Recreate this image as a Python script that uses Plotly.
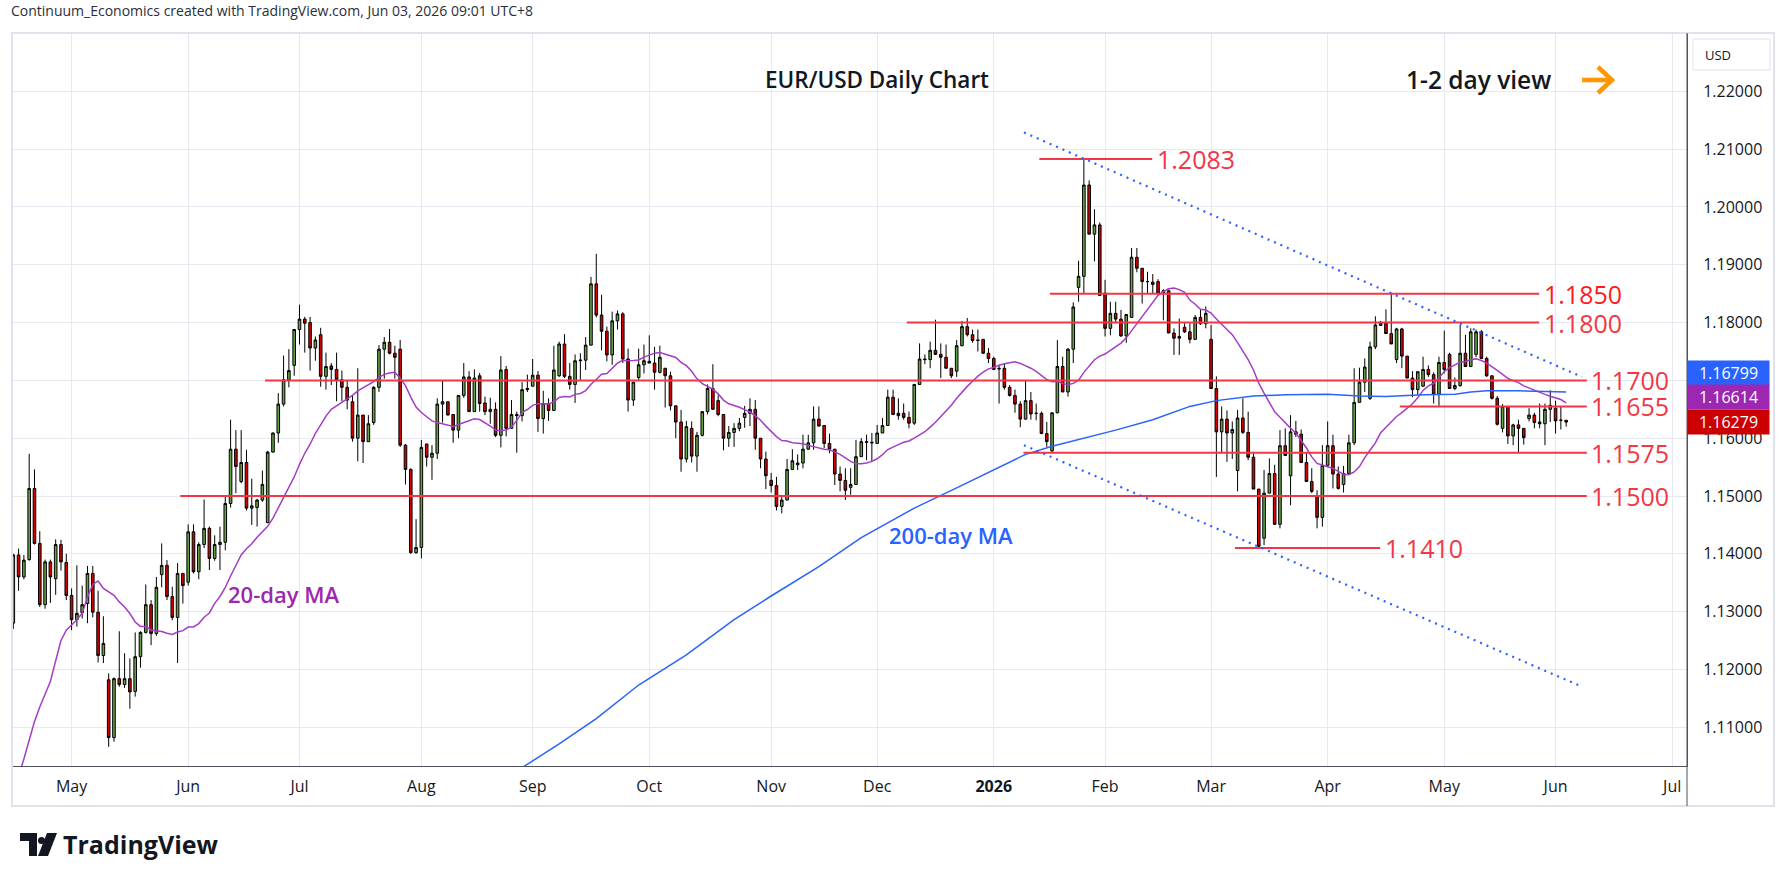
import pandas as pd
import plotly.graph_objects as go

# EUR/USD daily candles (first bar 16 Apr 2025)
opens = [1.1280, 1.1398, 1.1360, 1.1390, 1.1513, 1.1418, 1.1312, 1.1386, 1.1357, 1.1416,
         1.1385, 1.1328, 1.1286, 1.1298, 1.1314, 1.1366, 1.1299, 1.1224, 1.1182, 1.1082,
         1.1184, 1.1174, 1.1184, 1.1162, 1.1222, 1.1264, 1.1312, 1.1262, 1.1364, 1.1380,
         1.1326, 1.1290, 1.1366, 1.1351, 1.1438, 1.1369, 1.1416, 1.1444, 1.1392, 1.1416,
         1.1420, 1.1487, 1.1581, 1.1525, 1.1558, 1.1479, 1.1480, 1.1493, 1.1454, 1.1576,
         1.1609, 1.1659, 1.1701, 1.1726, 1.1788, 1.1806, 1.1800, 1.1756, 1.1779, 1.1707,
         1.1725, 1.1719, 1.1701, 1.1688, 1.1663, 1.1600, 1.1640, 1.1594, 1.1627, 1.1688,
         1.1754, 1.1766, 1.1747, 1.1754, 1.1588, 1.1546, 1.1402, 1.1411, 1.1590, 1.1567,
         1.1574, 1.1659, 1.1663, 1.1641, 1.1614, 1.1674, 1.1706, 1.1646, 1.1708, 1.1661,
         1.1646, 1.1650, 1.1605, 1.1719, 1.1617, 1.1641, 1.1639, 1.1684, 1.1690, 1.1709,
         1.1634, 1.1660, 1.1648, 1.1708, 1.1763, 1.1707, 1.1693, 1.1734, 1.1735, 1.1761,
         1.1867, 1.1813, 1.1785, 1.1744, 1.1803, 1.1815, 1.1737, 1.1666, 1.1705, 1.1727,
         1.1733, 1.1730, 1.1714, 1.1721, 1.1708, 1.1656, 1.1628, 1.1564, 1.1617, 1.1569,
         1.1605, 1.1646, 1.1686, 1.1665, 1.1641, 1.1600, 1.1610, 1.1617, 1.1636, 1.1643,
         1.1650, 1.1600, 1.1564, 1.1527, 1.1518, 1.1482, 1.1493, 1.1546, 1.1554, 1.1557,
         1.1581, 1.1592, 1.1633, 1.1622, 1.1591, 1.1581, 1.1538, 1.1527, 1.1515, 1.1520,
         1.1568, 1.1594, 1.1593, 1.1591, 1.1609, 1.1622, 1.1671, 1.1643, 1.1643, 1.1636,
         1.1626, 1.1693, 1.1737, 1.1736, 1.1752, 1.1745, 1.1740, 1.1721, 1.1716, 1.1760,
         1.1793, 1.1779, 1.1770, 1.1771, 1.1747, 1.1738, 1.1721, 1.1721, 1.1688, 1.1674,
         1.1659, 1.1633, 1.1665, 1.1643, 1.1643, 1.1608, 1.1578, 1.1644, 1.1724, 1.1680,
         1.1754, 1.1861, 1.1880, 1.2038, 1.1953, 1.1969, 1.1851, 1.1790, 1.1816, 1.1806,
         1.1777, 1.1809, 1.1913, 1.1894, 1.1871, 1.1870, 1.1871, 1.1851, 1.1855, 1.1782,
         1.1773, 1.1792, 1.1784, 1.1771, 1.1809, 1.1798, 1.1771, 1.1686, 1.1611, 1.1633,
         1.1609, 1.1544, 1.1635, 1.1610, 1.1567, 1.1512, 1.1427, 1.1505, 1.1539, 1.1451,
         1.1587, 1.1535, 1.1611, 1.1607, 1.1558, 1.1525, 1.1500, 1.1463, 1.1553, 1.1587,
         1.1538, 1.1520, 1.1539, 1.1592, 1.1662, 1.1697, 1.1669, 1.1758, 1.1795, 1.1799,
         1.1781, 1.1736, 1.1789, 1.1742, 1.1704, 1.1684, 1.1690, 1.1719, 1.1710, 1.1676,
         1.1731, 1.1745, 1.1686, 1.1691, 1.1747, 1.1724, 1.1745, 1.1784, 1.1738, 1.1708,
         1.1669, 1.1617, 1.1655, 1.1604, 1.1623, 1.1617, 1.1634, 1.1640, 1.1628, 1.1625,
         1.1650, 1.1652, 1.1631, 1.1631]
highs = [1.1400, 1.1409, 1.1398, 1.1573, 1.1546, 1.1439, 1.1390, 1.1390, 1.1425, 1.1424,
         1.1400, 1.1340, 1.1380, 1.1345, 1.1379, 1.1379, 1.1336, 1.1292, 1.1193, 1.1186,
         1.1266, 1.1228, 1.1219, 1.1264, 1.1266, 1.1347, 1.1320, 1.1360, 1.1418, 1.1389,
         1.1343, 1.1384, 1.1367, 1.1451, 1.1451, 1.1420, 1.1494, 1.1447, 1.1432, 1.1447,
         1.1499, 1.1632, 1.1614, 1.1614, 1.1580, 1.1530, 1.1495, 1.1544, 1.1578, 1.1610,
         1.1678, 1.1743, 1.1754, 1.1788, 1.1831, 1.1810, 1.1810, 1.1776, 1.1791, 1.1748,
         1.1730, 1.1748, 1.1717, 1.1700, 1.1674, 1.1721, 1.1640, 1.1640, 1.1690, 1.1761,
         1.1775, 1.1789, 1.1760, 1.1770, 1.1590, 1.1548, 1.1460, 1.1597, 1.1590, 1.1588,
         1.1669, 1.1700, 1.1663, 1.1641, 1.1674, 1.1730, 1.1716, 1.1719, 1.1713, 1.1672,
         1.1670, 1.1662, 1.1742, 1.1725, 1.1666, 1.1646, 1.1697, 1.1710, 1.1737, 1.1716,
         1.1682, 1.1669, 1.1760, 1.1767, 1.1780, 1.1730, 1.1745, 1.1747, 1.1775, 1.1879,
         1.1919, 1.1848, 1.1793, 1.1819, 1.1821, 1.1818, 1.1755, 1.1697, 1.1755, 1.1762,
         1.1778, 1.1758, 1.1760, 1.1721, 1.1715, 1.1656, 1.1649, 1.1630, 1.1629, 1.1611,
         1.1646, 1.1693, 1.1728, 1.1675, 1.1641, 1.1621, 1.1626, 1.1635, 1.1656, 1.1669,
         1.1666, 1.1600, 1.1577, 1.1540, 1.1533, 1.1502, 1.1564, 1.1581, 1.1572, 1.1606,
         1.1606, 1.1655, 1.1655, 1.1622, 1.1608, 1.1581, 1.1551, 1.1548, 1.1548, 1.1597,
         1.1600, 1.1606, 1.1609, 1.1623, 1.1635, 1.1684, 1.1684, 1.1669, 1.1660, 1.1646,
         1.1693, 1.1764, 1.1745, 1.1767, 1.1805, 1.1764, 1.1762, 1.1721, 1.1770, 1.1803,
         1.1808, 1.1788, 1.1788, 1.1771, 1.1756, 1.1741, 1.1727, 1.1730, 1.1692, 1.1684,
         1.1664, 1.1700, 1.1680, 1.1660, 1.1646, 1.1628, 1.1644, 1.1770, 1.1741, 1.1756,
         1.1835, 1.1907, 1.2083, 1.2046, 1.1996, 1.1973, 1.1874, 1.1836, 1.1836, 1.1822,
         1.1815, 1.1929, 1.1929, 1.1894, 1.1888, 1.1884, 1.1875, 1.1858, 1.1857, 1.1790,
         1.1807, 1.1799, 1.1799, 1.1813, 1.1822, 1.1828, 1.1796, 1.1707, 1.1655, 1.1648,
         1.1629, 1.1649, 1.1669, 1.1646, 1.1574, 1.1512, 1.1545, 1.1565, 1.1554, 1.1614,
         1.1617, 1.1640, 1.1630, 1.1615, 1.1574, 1.1548, 1.1510, 1.1588, 1.1629, 1.1606,
         1.1551, 1.1552, 1.1606, 1.1721, 1.1722, 1.1738, 1.1767, 1.1811, 1.1803, 1.1823,
         1.1850, 1.1791, 1.1791, 1.1742, 1.1716, 1.1715, 1.1741, 1.1726, 1.1714, 1.1741,
         1.1786, 1.1748, 1.1705, 1.1796, 1.1779, 1.1790, 1.1788, 1.1787, 1.1741, 1.1708,
         1.1673, 1.1659, 1.1655, 1.1625, 1.1632, 1.1617, 1.1652, 1.1644, 1.1660, 1.1660,
         1.1683, 1.1665, 1.1654, 1.1631]
lows = [1.1270, 1.1336, 1.1356, 1.1388, 1.1416, 1.1308, 1.1305, 1.1315, 1.1329, 1.1371,
        1.1320, 1.1268, 1.1274, 1.1288, 1.1280, 1.1290, 1.1212, 1.1211, 1.1066, 1.1075,
        1.1170, 1.1168, 1.1132, 1.1153, 1.1203, 1.1262, 1.1242, 1.1258, 1.1342, 1.1320,
        1.1285, 1.1211, 1.1314, 1.1345, 1.1366, 1.1356, 1.1410, 1.1372, 1.1388, 1.1372,
        1.1406, 1.1480, 1.1505, 1.1522, 1.1475, 1.1450, 1.1447, 1.1490, 1.1453, 1.1575,
        1.1592, 1.1655, 1.1688, 1.1708, 1.1762, 1.1748, 1.1717, 1.1734, 1.1689, 1.1684,
        1.1692, 1.1664, 1.1664, 1.1650, 1.1594, 1.1560, 1.1557, 1.1594, 1.1623, 1.1680,
        1.1703, 1.1745, 1.1703, 1.1585, 1.1520, 1.1400, 1.1400, 1.1392, 1.1551, 1.1528,
        1.1564, 1.1627, 1.1640, 1.1592, 1.1600, 1.1670, 1.1646, 1.1646, 1.1646, 1.1640,
        1.1625, 1.1602, 1.1584, 1.1603, 1.1617, 1.1575, 1.1629, 1.1680, 1.1690, 1.1611,
        1.1608, 1.1630, 1.1648, 1.1706, 1.1704, 1.1684, 1.1661, 1.1701, 1.1718, 1.1761,
        1.1809, 1.1752, 1.1733, 1.1727, 1.1788, 1.1730, 1.1646, 1.1656, 1.1700, 1.1712,
        1.1730, 1.1684, 1.1712, 1.1653, 1.1648, 1.1600, 1.1542, 1.1558, 1.1558, 1.1542,
        1.1603, 1.1641, 1.1650, 1.1638, 1.1579, 1.1585, 1.1585, 1.1612, 1.1618, 1.1621,
        1.1580, 1.1548, 1.1512, 1.1506, 1.1475, 1.1470, 1.1493, 1.1545, 1.1545, 1.1548,
        1.1580, 1.1580, 1.1620, 1.1583, 1.1574, 1.1519, 1.1508, 1.1493, 1.1502, 1.1520,
        1.1568, 1.1562, 1.1559, 1.1591, 1.1609, 1.1622, 1.1640, 1.1632, 1.1632, 1.1617,
        1.1623, 1.1692, 1.1728, 1.1721, 1.1744, 1.1704, 1.1721, 1.1704, 1.1706, 1.1759,
        1.1776, 1.1765, 1.1750, 1.1746, 1.1730, 1.1718, 1.1660, 1.1684, 1.1672, 1.1644,
        1.1619, 1.1632, 1.1632, 1.1631, 1.1607, 1.1585, 1.1575, 1.1643, 1.1680, 1.1672,
        1.1730, 1.1836, 1.1851, 1.1953, 1.1906, 1.1847, 1.1776, 1.1778, 1.1799, 1.1775,
        1.1765, 1.1809, 1.1887, 1.1833, 1.1850, 1.1851, 1.1849, 1.1804, 1.1782, 1.1744,
        1.1744, 1.1782, 1.1764, 1.1770, 1.1796, 1.1790, 1.1686, 1.1533, 1.1574, 1.1559,
        1.1564, 1.1508, 1.1607, 1.1562, 1.1512, 1.1410, 1.1415, 1.1505, 1.1451, 1.1444,
        1.1570, 1.1484, 1.1602, 1.1558, 1.1525, 1.1505, 1.1444, 1.1447, 1.1553, 1.1513,
        1.1511, 1.1506, 1.1538, 1.1588, 1.1662, 1.1680, 1.1666, 1.1754, 1.1795, 1.1781,
        1.1763, 1.1730, 1.1721, 1.1704, 1.1671, 1.1675, 1.1689, 1.1706, 1.1660, 1.1656,
        1.1712, 1.1686, 1.1683, 1.1689, 1.1724, 1.1723, 1.1740, 1.1738, 1.1706, 1.1667,
        1.1622, 1.1610, 1.1590, 1.1588, 1.1576, 1.1589, 1.1629, 1.1617, 1.1617, 1.1588,
        1.1628, 1.1608, 1.1615, 1.1620]
closes = [1.1398, 1.1360, 1.1389, 1.1513, 1.1418, 1.1312, 1.1386, 1.1360, 1.1416, 1.1386,
          1.1328, 1.1286, 1.1297, 1.1312, 1.1366, 1.1299, 1.1224, 1.1245, 1.1082, 1.1184,
          1.1174, 1.1184, 1.1161, 1.1222, 1.1264, 1.1312, 1.1262, 1.1342, 1.1380, 1.1326,
          1.1290, 1.1366, 1.1345, 1.1438, 1.1369, 1.1416, 1.1444, 1.1392, 1.1416, 1.1420,
          1.1487, 1.1581, 1.1551, 1.1558, 1.1479, 1.1483, 1.1493, 1.1520, 1.1576, 1.1609,
          1.1659, 1.1701, 1.1717, 1.1788, 1.1806, 1.1799, 1.1756, 1.1770, 1.1707, 1.1724,
          1.1719, 1.1701, 1.1688, 1.1666, 1.1600, 1.1640, 1.1594, 1.1625, 1.1688, 1.1754,
          1.1766, 1.1747, 1.1740, 1.1588, 1.1546, 1.1402, 1.1411, 1.1584, 1.1567, 1.1574,
          1.1659, 1.1663, 1.1640, 1.1614, 1.1674, 1.1706, 1.1646, 1.1704, 1.1660, 1.1646,
          1.1650, 1.1605, 1.1718, 1.1617, 1.1641, 1.1639, 1.1684, 1.1686, 1.1709, 1.1634,
          1.1660, 1.1648, 1.1718, 1.1763, 1.1707, 1.1693, 1.1734, 1.1735, 1.1761, 1.1867,
          1.1813, 1.1785, 1.1744, 1.1803, 1.1815, 1.1737, 1.1666, 1.1697, 1.1727, 1.1734,
          1.1730, 1.1714, 1.1740, 1.1708, 1.1656, 1.1628, 1.1564, 1.1620, 1.1569, 1.1605,
          1.1646, 1.1686, 1.1650, 1.1641, 1.1600, 1.1610, 1.1617, 1.1626, 1.1643, 1.1650,
          1.1600, 1.1564, 1.1535, 1.1518, 1.1482, 1.1493, 1.1546, 1.1561, 1.1557, 1.1581,
          1.1592, 1.1633, 1.1621, 1.1591, 1.1581, 1.1538, 1.1527, 1.1510, 1.1520, 1.1568,
          1.1594, 1.1593, 1.1592, 1.1609, 1.1622, 1.1671, 1.1641, 1.1639, 1.1636, 1.1626,
          1.1693, 1.1737, 1.1736, 1.1752, 1.1745, 1.1740, 1.1721, 1.1708, 1.1760, 1.1793,
          1.1779, 1.1769, 1.1769, 1.1747, 1.1738, 1.1719, 1.1720, 1.1688, 1.1674, 1.1659,
          1.1633, 1.1665, 1.1642, 1.1643, 1.1608, 1.1594, 1.1644, 1.1724, 1.1680, 1.1754,
          1.1827, 1.1880, 1.2038, 1.1953, 1.1969, 1.1847, 1.1790, 1.1816, 1.1806, 1.1777,
          1.1814, 1.1913, 1.1894, 1.1871, 1.1871, 1.1866, 1.1851, 1.1855, 1.1782, 1.1773,
          1.1776, 1.1784, 1.1771, 1.1809, 1.1798, 1.1816, 1.1686, 1.1611, 1.1633, 1.1609,
          1.1615, 1.1635, 1.1610, 1.1567, 1.1512, 1.1413, 1.1505, 1.1539, 1.1451, 1.1587,
          1.1570, 1.1611, 1.1607, 1.1558, 1.1525, 1.1508, 1.1463, 1.1553, 1.1587, 1.1538,
          1.1513, 1.1539, 1.1592, 1.1662, 1.1697, 1.1723, 1.1758, 1.1796, 1.1799, 1.1781,
          1.1763, 1.1789, 1.1742, 1.1704, 1.1684, 1.1715, 1.1719, 1.1710, 1.1676, 1.1731,
          1.1719, 1.1686, 1.1691, 1.1747, 1.1724, 1.1784, 1.1784, 1.1738, 1.1708, 1.1669,
          1.1624, 1.1655, 1.1604, 1.1623, 1.1617, 1.1601, 1.1640, 1.1627, 1.1625, 1.1650,
          1.1657, 1.1630, 1.1631, 1.16279]

# 20-day MA values before the chart has 20 visible closes
ma20_head = [1.0990, 1.1015, 1.1045, 1.1078, 1.1110, 1.1135, 1.1156, 1.1179, 1.1215, 1.1250,
             1.1268, 1.1277, 1.1286, 1.1297, 1.1325, 1.1347, 1.1353, 1.1340, 1.1334]

# 200-day MA (bar index, value)
ma200_idx = [96, 103, 110, 118, 127, 136, 143, 152, 160, 166, 170, 178, 185, 191, 196, 202,
             208, 215, 222, 227, 234, 240, 248, 254, 259, 266, 272, 275, 278, 284, 293]
ma200_val = [1.1030, 1.1071, 1.1115, 1.1173, 1.1225, 1.1286, 1.1327, 1.1378, 1.1428, 1.1458,
             1.1479, 1.1514, 1.1546, 1.1572, 1.1586, 1.1600, 1.1614, 1.1632, 1.1655, 1.1665,
             1.1673, 1.1675, 1.1676, 1.1673, 1.1672, 1.1675, 1.1676, 1.1680, 1.1682, 1.1682,
             1.16799]

# drawn support / resistance levels: value, label, start bar, end bar, label bar, label colour
levels = [
    (1.2083, "1.2083", 193.6, 214.9, 215.4, "#f23645"),
    (1.1850, "1.1850", 195.6, 287.9, 288.4, "#ff1a1a"),
    (1.1800, "1.1800", 168.6, 287.9, 288.4, "#f23645"),
    (1.1700, "1.1700", 47.5, 296.9, 297.4, "#f23645"),
    (1.1655, "1.1655", 261.6, 296.9, 297.4, "#f23645"),
    (1.1575, "1.1575", 190.6, 296.9, 297.4, "#f23645"),
    (1.1500, "1.1500", 31.5, 296.9, 297.4, "#f23645"),
    (1.1410, "1.1410", 230.5, 257.9, 258.4, "#f23645"),
]
# falling channel (bar, price) pairs
trend_lines = [((190.7, 1.2129), (296.0, 1.1706)),
               ((190.7, 1.1588), (296.0, 1.1170))]

y_ticks = [1.11, 1.12, 1.13, 1.14, 1.15, 1.16, 1.17, 1.18, 1.19, 1.20, 1.21, 1.22]
# 1.17000 sits fully under the last-value tags, so its label is left blank
y_text = ["" if v == 1.17 else f"{v:.5f}" for v in y_ticks]

# trading days as TradingView lays them out (no Christmas / New Year bar)
days = pd.bdate_range("2025-04-16", periods=340)
days = days[~days.isin(pd.to_datetime(["2025-12-25", "2026-01-01"]))]
n = len(closes)
idx = list(range(n))

month_idx, month_txt = [], []
for j in range(1, len(days)):
    if days[j].month != days[j - 1].month:
        month_idx.append(j)
        month_txt.append("<b>2026</b>" if days[j].month == 1 else days[j].strftime("%b"))

ma20 = pd.Series(closes).rolling(20).mean().tolist()
ma20[:19] = ma20_head

# pixel geometry of the plot area
L, R, T, B = 11, 1687, 33, 766
W, H = R - L, B - T


def px(x):
    return (x - L) / W


def py(y):
    return (B - y) / H


FONT = "Open Sans"
GREEN = "#64a046"
RED = "#d40000"
GRID = "#e6eaf0"
AXIS = "#50535e"

fig = go.Figure()
fig.add_trace(go.Candlestick(
    x=idx, open=opens, high=highs, low=lows, close=closes,
    increasing=dict(fillcolor=GREEN, line=dict(color="black", width=1)),
    decreasing=dict(fillcolor=RED, line=dict(color="black", width=1)),
    whiskerwidth=0, hoverinfo="skip", showlegend=False))
fig.add_trace(go.Scatter(x=idx, y=ma20, mode="lines", line=dict(color="#a53dc4", width=1.5),
                         hoverinfo="skip", showlegend=False))
fig.add_trace(go.Scatter(x=ma200_idx, y=ma200_val, mode="lines", line=dict(color="#2962ff", width=1.5),
                         hoverinfo="skip", showlegend=False))

shapes = []
annots = []


def paper_text(x, y, text, size, color="#131722", xanchor="left", weight=400, **kw):
    annots.append(dict(x=px(x), y=py(y), xref="paper", yref="paper", text=text, showarrow=False,
                       xanchor=xanchor, yanchor="middle",
                       font=dict(family=FONT, size=size, color=color, weight=weight), **kw))


for val, txt, x0, x1, xl, col in levels:
    shapes.append(dict(type="line", xref="x", yref="y", x0=x0, x1=x1, y0=val, y1=val,
                       line=dict(color="#f23645", width=2), layer="above"))
    annots.append(dict(x=xl, y=val, xref="x", yref="y", text=txt, showarrow=False,
                       xanchor="left", yanchor="middle",
                       font=dict(family=FONT, size=25, color=col)))

for (a, b) in trend_lines:
    shapes.append(dict(type="line", xref="x", yref="y", x0=a[0], y0=a[1], x1=b[0], y1=b[1],
                       line=dict(color="#2962ff", width=2.2, dash="2px,5px"), layer="above"))

# MA labels
annots.append(dict(x=50.9, y=1.1330, xref="x", yref="y", text="20-day MA", showarrow=False,
                   xanchor="center", yanchor="middle",
                   font=dict(family=FONT, size=22, color="#9c27b0", weight=600)))
annots.append(dict(x=176.9, y=1.1432, xref="x", yref="y", text="200-day MA", showarrow=False,
                   xanchor="center", yanchor="middle",
                   font=dict(family=FONT, size=22, color="#2962ff", weight=600)))

# titles
paper_text(877, 80, "EUR/USD Daily Chart", 22.5, xanchor="center", weight=600)
paper_text(1404, 80, "1-2 day view", 24.5, weight=600)
shapes.append(dict(type="path", xref="paper", yref="paper", layer="above",
                   path=f"M {px(1582)},{py(80)} L {px(1611)},{py(80)} "
                        f"M {px(1598)},{py(67)} L {px(1612)},{py(80)} L {px(1598)},{py(93)}",
                   line=dict(color="#ff9800", width=4.5)))

paper_text(9, 10, "Continuum_Economics created with TradingView.com, Jun 03, 2026 09:01 UTC+8",
           14, color="#2a2e39")

# last-value tags on the price scale
for txt, col, yc in [("1.16799", "#2962ff", 372.7), ("1.16614", "#9c27b0", 397.3),
                     ("1.16279", "#cc0000", 422.3)]:
    paper_text(1728.5, yc, txt, 16, color="white", xanchor="center",
               bgcolor=col, width=78, height=21, borderpad=1.5)

# currency box
shapes.append(dict(type="rect", xref="paper", yref="paper", x0=px(1693), x1=px(1770),
                   y0=py(70), y1=py(39), line=dict(color="#e0e3eb", width=1), fillcolor="white"))
paper_text(1703, 54.5, "USD", 13)

# frame and price-scale separator
shapes.append(dict(type="rect", xref="paper", yref="paper", x0=px(12), x1=px(1774),
                   y0=py(806), y1=py(33), line=dict(color="#e0e3eb", width=2)))
shapes.append(dict(type="line", xref="paper", yref="paper", x0=1, x1=1, y0=py(806), y1=1,
                   line=dict(color=AXIS, width=1)))

# TradingView logo
shapes.append(dict(type="path", xref="paper", yref="paper", fillcolor="#131722", line=dict(width=0),
                   path=f"M {px(20)},{py(833)} L {px(37)},{py(833)} L {px(37)},{py(856)} "
                        f"L {px(29)},{py(856)} L {px(29)},{py(841)} L {px(20)},{py(841)} Z"))
shapes.append(dict(type="circle", xref="paper", yref="paper", fillcolor="#131722", line=dict(width=0),
                   x0=px(38), x1=px(45), y0=py(844), y1=py(837)))
shapes.append(dict(type="path", xref="paper", yref="paper", fillcolor="#131722", line=dict(width=0),
                   path=f"M {px(47)},{py(833)} L {px(57)},{py(833)} L {px(48)},{py(856)} "
                        f"L {px(38)},{py(856)} Z"))
paper_text(61, 844, "TradingView", 25, weight=700)

fig.update_layout(
    width=1787, height=881, autosize=False,
    margin=dict(l=L, r=1787 - R, t=T, b=881 - B),
    paper_bgcolor="white", plot_bgcolor="white",
    showlegend=False, shapes=shapes, annotations=annots,
    xaxis=dict(range=[-0.43, 315.8], tickvals=month_idx, ticktext=month_txt,
               showgrid=True, gridcolor=GRID, gridwidth=1, zeroline=False,
               showline=True, linecolor=AXIS, linewidth=1, ticks="",
               ticklabelstandoff=6, rangeslider=dict(visible=False),
               tickfont=dict(family=FONT, size=16, color="#131722")),
    yaxis=dict(side="right", range=[1.10329, 1.23010], tickvals=y_ticks, ticktext=y_text,
               showgrid=True, gridcolor=GRID, gridwidth=1, zeroline=False,
               showline=True, linecolor=AXIS, linewidth=1, ticks="",
               ticklabelstandoff=12,
               tickfont=dict(family=FONT, size=16, color="#131722")),
)

fig.write_html("out.html", config={"displayModeBar": False},
               post_script="document.body.style.margin='0';")
